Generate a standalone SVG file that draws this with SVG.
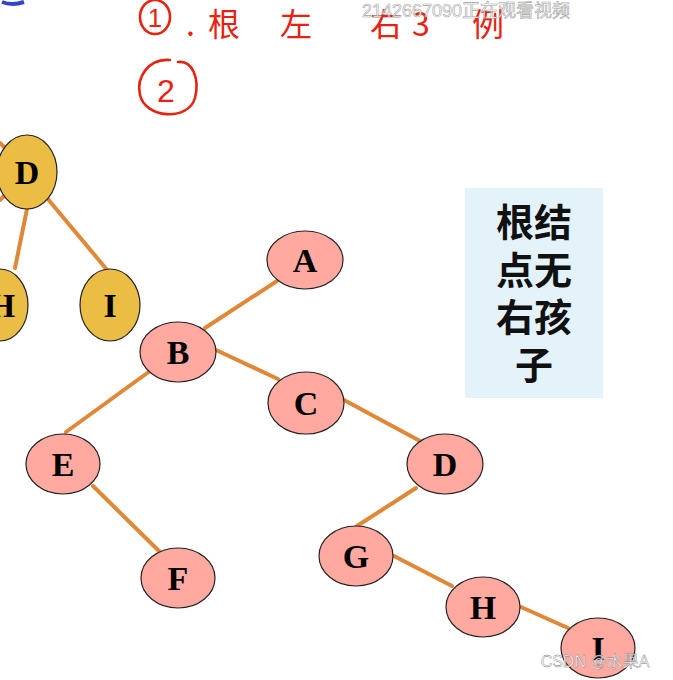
<svg xmlns="http://www.w3.org/2000/svg" width="673" height="680" viewBox="0 0 673 680">
<style>
.pk{fill:#FFA9A1;stroke:#222;stroke-width:1.2}
.yl{fill:#EBBD45;stroke:#222;stroke-width:1.2}
.lb{font-family:"Liberation Serif",serif;font-weight:bold;font-size:34px;fill:#000;text-anchor:middle}
.e{stroke:#E08838;stroke-width:4;stroke-linecap:round;fill:none}
.hw{fill:none;stroke:#E8220F;stroke-width:2.6;stroke-linecap:round}
.ht{font-family:"Noto Sans CJK SC",sans-serif;font-size:32px;fill:#E8220F}
.cn{font-family:"Noto Sans CJK SC",sans-serif;font-weight:bold;font-size:38px;fill:#111;text-anchor:middle}
</style>
<rect width="673" height="680" fill="#fff"/>
<path d="M2,2 Q12,6 24,2" stroke="#3344cc" stroke-width="4" fill="none"/>
<g id="annotation">
<ellipse class="hw" cx="155" cy="17" rx="15" ry="17"/>
<text x="155" y="27" font-family="Liberation Sans,sans-serif" font-size="26" fill="#E8220F" text-anchor="middle">1</text>
<text class="ht" y="36"><tspan x="186">.</tspan><tspan x="208">根</tspan><tspan x="280">左</tspan><tspan x="370">右</tspan><tspan x="412">3</tspan><tspan x="472">例</tspan></text>
<path class="hw" d="M170,60 C148,58 136,78 140,95 C145,118 188,122 195,98 C200,78 192,60 178,62"/>
<text x="166" y="102" font-family="Liberation Sans,sans-serif" font-size="32" fill="#E8220F" text-anchor="middle">2</text>
</g>
<text x="466" y="17" font-family="Liberation Sans,Noto Sans CJK SC,sans-serif" font-size="18" fill="#fff" stroke="#999" stroke-width="0.6" text-anchor="middle" opacity="0.9">2142667090正在观看视频</text>
<g id="connectors">
<line class="e" x1="27" y1="209" x2="15" y2="268"/>
<line class="e" x1="47" y1="198" x2="108" y2="271"/>
<line class="e" x1="0" y1="143" x2="4" y2="147"/>
<line class="e" x1="0" y1="200" x2="4" y2="196"/>
<line class="e" x1="277" y1="281" x2="205" y2="328"/>
<line class="e" x1="216" y1="350" x2="278" y2="379"/>
<line class="e" x1="150" y1="371" x2="66" y2="432"/>
<line class="e" x1="93" y1="486" x2="161" y2="553"/>
<line class="e" x1="344" y1="400" x2="420" y2="441"/>
<line class="e" x1="416" y1="488" x2="357" y2="526"/>
<line class="e" x1="394" y1="556" x2="452" y2="586"/>
<line class="e" x1="521" y1="607" x2="568" y2="628" stroke-width="2"/>
</g>
<g id="yD"><ellipse class="yl" cx="27" cy="172" rx="30" ry="37"/><text class="lb" x="27" y="184">D</text></g>
<g id="yH"><ellipse class="yl" cx="0" cy="305" rx="28" ry="36"/><text class="lb" x="2" y="317">H</text></g>
<g id="yI"><ellipse class="yl" cx="110" cy="305" rx="30" ry="36"/><text class="lb" x="110" y="317">I</text></g>
<g id="A"><ellipse class="pk" cx="305" cy="260" rx="38" ry="29"/><text class="lb" x="305" y="272">A</text></g>
<g id="B"><ellipse class="pk" cx="178" cy="352" rx="38" ry="30"/><text class="lb" x="178" y="364">B</text></g>
<g id="C"><ellipse class="pk" cx="306" cy="403" rx="38" ry="31"/><text class="lb" x="306" y="415">C</text></g>
<g id="D"><ellipse class="pk" cx="445" cy="464" rx="38" ry="30"/><text class="lb" x="445" y="476">D</text></g>
<g id="E"><ellipse class="pk" cx="63" cy="464" rx="37" ry="30"/><text class="lb" x="63" y="476">E</text></g>
<g id="F"><ellipse class="pk" cx="178" cy="578" rx="37" ry="30"/><text class="lb" x="178" y="590">F</text></g>
<g id="G"><ellipse class="pk" cx="356" cy="556" rx="37" ry="30"/><text class="lb" x="356" y="568">G</text></g>
<g id="H"><ellipse class="pk" cx="483" cy="607" rx="37" ry="30"/><text class="lb" x="483" y="619">H</text></g>
<g id="I"><ellipse class="pk" cx="598" cy="648" rx="37" ry="30"/><text class="lb" x="598" y="660">I</text></g>
<g id="note">
<rect x="465" y="188" width="138" height="210" fill="#E4F2FA"/>
<text class="cn" x="534" y="236">根结</text>
<text class="cn" x="534" y="284">点无</text>
<text class="cn" x="534" y="331">右孩</text>
<text class="cn" x="534" y="379">子</text>
</g>
<text x="595" y="667" font-family="Liberation Sans,Noto Sans CJK SC,sans-serif" font-size="16" fill="#fff" stroke="#777" stroke-width="0.4" text-anchor="middle">CSDN @水果A</text>
</svg>
